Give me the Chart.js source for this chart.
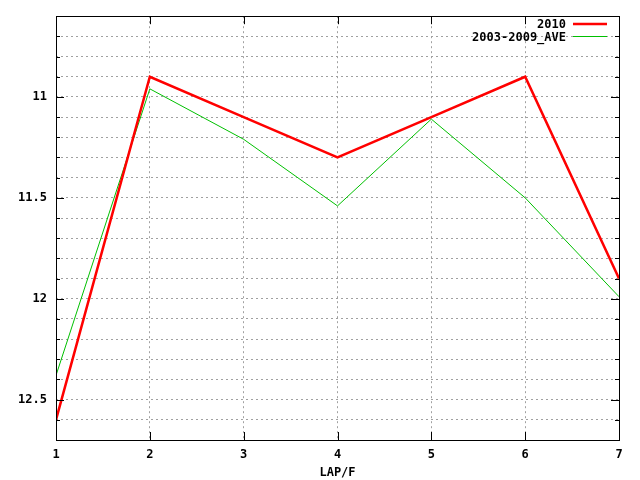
<!DOCTYPE html>
<html><head><meta charset="utf-8">
<script src="https://cdn.jsdelivr.net/npm/chart.js@4/dist/chart.umd.min.js"></script>
<style>html,body{margin:0;padding:0;background:#fff}#wrap{width:640px;height:480px}</style>
</head><body><div id="wrap"><canvas id="c" width="640" height="480"></canvas></div>
<script>
const laps = [1, 2, 3, 4, 5, 6, 7];
const series2010 = [12.6, 10.9, 11.1, 11.3, 11.1, 10.9, 11.9];
const seriesAve = [12.38, 10.96, 11.21, 11.54, 11.11, 11.5, 11.99];
const seriesNames = ['2010', '2003-2009_AVE'];
const xTitle = 'LAP/F';
const FONT = '"DejaVu Sans Mono", "Liberation Mono", monospace';

const frame = {
  id: 'frame',
  afterDatasetsDraw(chart) {
    const {ctx, chartArea: a, scales} = chart;
    ctx.save();
    ctx.strokeStyle = '#000'; ctx.lineWidth = 1;
    ctx.beginPath();
    const ys = scales.y;
    ys.ticks.forEach(t => {
      const v = t.value;
      const major = Math.abs(v * 2 - Math.round(v * 2)) < 1e-6;
      const len = major ? 8 : 4;
      const py = Math.round(ys.getPixelForValue(v)) + 0.5;
      ctx.moveTo(a.left, py); ctx.lineTo(a.left + len, py);
      ctx.moveTo(a.right, py); ctx.lineTo(a.right - len, py);
    });
    const xs = scales.x;
    xs.ticks.forEach(t => {
      const px = Math.round(xs.getPixelForValue(t.value)) + 0.5;
      ctx.moveTo(px, a.bottom); ctx.lineTo(px, a.bottom - 8);
      ctx.moveTo(px, a.top); ctx.lineTo(px, a.top + 8);
    });
    ctx.stroke();
    ctx.strokeRect(Math.round(a.left) + 0.5, Math.round(a.top) + 0.5, Math.round(a.right - a.left), Math.round(a.bottom - a.top));
    ctx.font = 'bold 12px ' + FONT;
    ctx.textAlign = 'right'; ctx.textBaseline = 'middle'; ctx.fillStyle = '#000';
    chart.data.datasets.forEach((ds, i) => {
      const y = 24 + i * 12.5;
      ctx.fillText(ds.label, 566, y + 1);
      ctx.strokeStyle = ds.borderColor; ctx.lineWidth = ds.borderWidth;
      ctx.beginPath(); ctx.moveTo(573, y); ctx.lineTo(607, y); ctx.stroke();
    });
    ctx.restore();
  }
};

new Chart(document.getElementById('c'), {
  type: 'line',
  data: {
    datasets: [
      { label: seriesNames[0], data: laps.map((x, i) => ({x, y: series2010[i]})), borderColor: '#ff0000', borderWidth: 2.5, pointRadius: 0, tension: 0, fill: false },
      { label: seriesNames[1], data: laps.map((x, i) => ({x, y: seriesAve[i]})), borderColor: '#00c000', borderWidth: 1, pointRadius: 0, tension: 0, fill: false }
    ]
  },
  options: {
    responsive: false, animation: false,
    layout: { padding: { left: 0, top: 14, right: 21, bottom: 0 } },
    plugins: { legend: { display: false }, tooltip: { enabled: false } },
    scales: {
      x: {
        type: 'linear', min: 1, max: 7,
        ticks: { stepSize: 1, color: '#000', font: { family: FONT, size: 12, weight: 'bold' }, padding: 8, maxRotation: 0 },
        grid: { color: '#a0a0a0', drawTicks: false, lineWidth: 1 },
        border: { display: false, dash: [2, 3] },
        title: { display: true, text: xTitle, color: '#000', font: { family: FONT, size: 12, weight: 'bold' }, padding: { top: 4, bottom: 0 } },
        afterFit(s) { s.height = 40; }
      },
      y: {
        type: 'linear', reverse: true, min: 10.6, max: 12.7,
        ticks: {
          stepSize: 0.1, color: '#000', font: { family: FONT, size: 12, weight: 'bold' }, padding: 9, autoSkip: false,
          callback: v => (Math.abs(v * 2 - Math.round(v * 2)) < 1e-6 ? String(Math.round(v * 2) / 2) : '')
        },
        grid: { color: '#a0a0a0', drawTicks: false, lineWidth: 1 },
        border: { display: false, dash: [2, 3] },
        afterFit(s) { s.width = 56; }
      }
    }
  },
  plugins: [frame]
});
</script></body></html>
